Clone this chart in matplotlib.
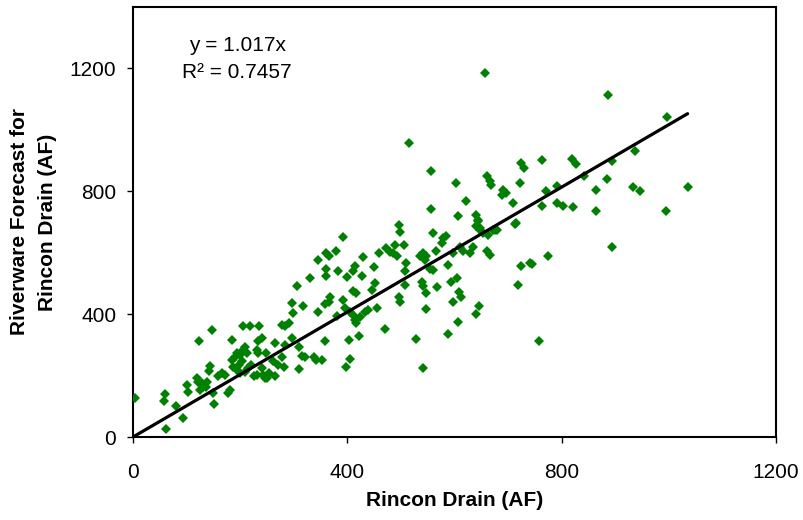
import matplotlib
matplotlib.use("Agg")
import matplotlib.pyplot as plt
import numpy as np

rincon = [
    4, 60, 57, 62, 80, 94, 101, 103, 124, 119, 122, 128, 125, 131, 147, 144, 141, 138, 136, 152,
    159, 149, 166, 172, 181, 178, 184, 206, 218, 236, 185, 190, 194, 200, 206, 209, 212, 203, 197, 187,
    194, 200, 209, 215, 221, 225, 231, 240, 243, 246, 234, 231, 234, 240, 249,
    392, 360, 365, 378, 345, 361, 360, 382, 330, 307, 296, 318, 299, 345, 368, 365, 358, 392, 400, 414,
    411, 430, 427, 449, 460, 473, 480, 489, 452, 446, 411, 417, 396, 405, 411, 414, 417, 424, 433, 439,
    455, 471, 404, 422, 405, 398, 358, 380, 292, 284, 278, 265, 296, 284, 309, 315, 321, 278, 262, 271,
    281, 337, 342, 352, 309, 253, 265, 250,
    497, 498, 560, 579, 584, 576, 644, 648, 663, 679, 714, 505, 486, 492, 536, 542, 547, 545, 566, 598,
    610, 616, 629, 635, 660, 667, 509, 508, 554, 560, 587, 539, 542, 547, 508, 568, 594, 604, 609, 613,
    598, 497, 498, 547, 646, 640, 606, 587, 528, 542, 725, 741, 718,
    763, 819, 827, 937, 725, 730, 893, 885, 934, 946, 864, 842, 792, 771, 763, 792, 803, 822, 864, 722,
    893, 774, 744, 758,
    997, 1035, 994,
    516, 557, 602, 621, 557, 606, 641, 644, 641, 648, 654, 672, 660, 666, 669, 691, 688, 697, 710, 713,
    676, 886, 657,
]
forecast = [
    128, 139, 117, 25, 101, 62, 168, 148, 311, 193, 180, 175, 153, 162, 349, 232, 216, 180, 162, 107,
    197, 142, 208, 202, 153, 142, 316, 362, 362, 362, 251, 262, 273, 267, 284, 294, 273, 246, 235, 229,
    218, 208, 213, 224, 235, 197, 202, 224, 202, 191, 273, 284, 311, 322, 273,
    651, 599, 590, 604, 577, 547, 525, 539, 519, 493, 436, 427, 403, 408, 457, 441, 434, 447, 521, 558,
    542, 586, 525, 552, 599, 615, 601, 626, 501, 479, 474, 468, 420, 408, 398, 381, 371, 392, 408, 414,
    420, 351, 316, 329, 253, 229, 311, 395, 371, 360, 365, 305, 322, 300, 294, 264, 262, 262, 246, 235,
    229, 262, 251, 251, 221, 208, 199, 191,
    691, 666, 664, 648, 653, 633, 702, 680, 659, 675, 697, 626, 599, 590, 588, 599, 590, 577, 604, 599,
    620, 604, 599, 620, 604, 593, 568, 539, 547, 545, 561, 506, 490, 469, 496, 487, 506, 517, 471, 455,
    441, 456, 441, 416, 427, 401, 376, 336, 318, 226, 558, 566, 496,
    903, 905, 890, 930, 892, 876, 898, 840, 814, 800, 805, 851, 818, 800, 753, 762, 753, 748, 735, 827,
    617, 590, 564, 311,
    1042, 813, 735,
    958, 865, 827, 767, 742, 721, 724, 708, 686, 675, 664, 675, 849, 832, 822, 805, 788, 794, 762, 694,
    675, 1113, 1186,
]
slope = 1.017
r2 = 0.7457

plt.rcParams['font.family'] = ['Liberation Sans', 'DejaVu Sans']

fig = plt.figure(figsize=(8.04, 5.2), dpi=100)
ax = fig.add_axes([0.1654, 0.1596, 0.7998, 0.827])

ax.plot(rincon, forecast, linestyle='none', marker='D', ms=4.6,
        color='#008000', markeredgewidth=0, zorder=3)

xfit = np.array([0, max(rincon)])
ax.plot(xfit, slope * xfit, color='black', lw=2.3, zorder=4, solid_capstyle='round')

ax.set_xlim(0, 1200)
ax.set_ylim(0, 1400)
ax.set_xticks([0, 400, 800, 1200])
ax.set_yticks([0, 400, 800, 1200])
ax.tick_params(direction='out', length=4, width=1, labelsize=15, color='black')
ax.tick_params(axis='x', pad=15)
ax.tick_params(axis='y', pad=8)
for s in ax.spines.values():
    s.set_linewidth(1.5)
    s.set_color('black')

ax.set_xlabel("Rincon Drain (AF)", fontsize=15, fontweight='bold', labelpad=6)
ax.set_ylabel("Riverware Forecast for\nRincon Drain (AF)", fontsize=15,
              fontweight='bold', labelpad=9, linespacing=1.6)

ax.text(0.162, 0.879, f"y = {slope}x\nR\u00b2 = {r2}", transform=ax.transAxes,
        fontsize=15, ha='center', va='center', linespacing=1.5)

fig.savefig("out.png", dpi=100)
